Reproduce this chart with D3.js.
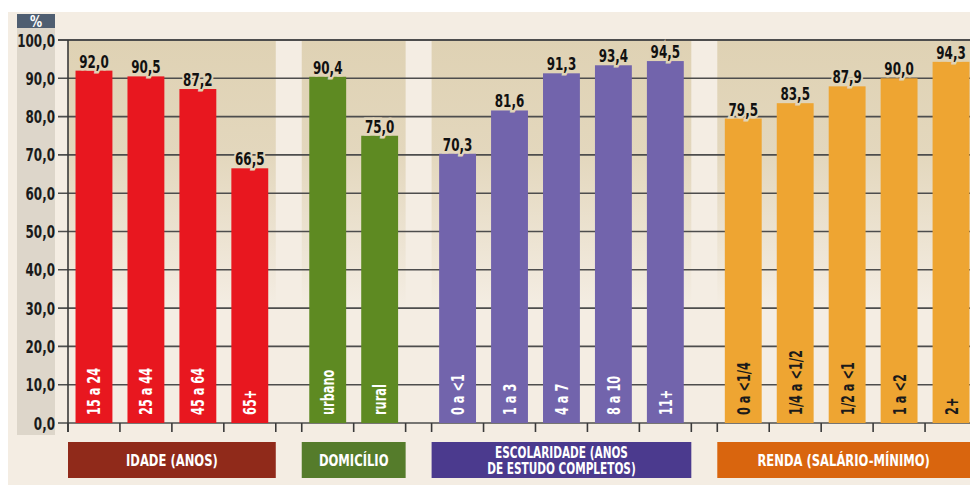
<!DOCTYPE html>
<html>
<head>
<meta charset="utf-8">
<script src="https://cdn.jsdelivr.net/npm/d3@7"></script>
<style>
  html, body { margin: 0; padding: 0; background: #ffffff; }
  svg { display: block; }
  text { font-family: "DejaVu Sans Condensed", "DejaVu Sans", sans-serif; font-stretch: condensed; }
</style>
</head>
<body>
<svg id="chart" width="970" height="485"></svg>
<script>
// Group titles (as drawn in the boxes below the axis)
const groupTitles = [
  ["IDADE (ANOS)"],
  ["DOMICÍLIO"],
  ["ESCOLARIDADE (ANOS", "DE ESTUDO COMPLETOS)"],
  ["RENDA (SALÁRIO-MÍNIMO)"]
];

// Category labels per group
const idadeCats = ["15 a 24", "25 a 44", "45 a 64", "65+"];
const domicilioCats = ["urbano", "rural"];
const escolaridadeCats = ["0 a <1", "1 a 3", "4 a 7", "8 a 10", "11+"];
const rendaCats = ["0 a <1/4", "1/4 a <1/2", "1/2 a <1", "1 a <2", "2+"];

// Values (%) per group
const idadeValues = [92.0, 90.5, 87.2, 66.5];
const domicilioValues = [90.4, 75.0];
const escolaridadeValues = [70.3, 81.6, 91.3, 93.4, 94.5];
const rendaValues = [79.5, 83.5, 87.9, 90.0, 94.3];

// Y-axis ticks
const yTicks = [0, 10, 20, 30, 40, 50, 60, 70, 80, 90, 100];

const groupCats = [idadeCats, domicilioCats, escolaridadeCats, rendaCats];
const groupValues = [idadeValues, domicilioValues, escolaridadeValues, rendaValues];

// Styling
const barColors = ["#e8171f", "#5e8a22", "#7264ac", "#eea532"];
const boxColors = ["#902a1a", "#557c2b", "#4b3a8e", "#d9650e"];
const innerLabelColors = ["#ffffff", "#ffffff", "#ffffff", "#1a1a1a"];
const bgCream = "#f4ede3";
const panelTop = "#dfd2b4";
const panelMid = "#e3d7bd";
const gapSlots = 0.5;
const squeeze = 0.76; // horizontal squeeze for a narrow, poster-like type

const svg = d3.select("#chart");
const W = 970, H = 485;

// Text helper: positioned, optionally rotated, horizontally squeezed
function label(parent, tx, ty, str, opts = {}) {
  const rot = opts.rotate || 0;
  const t = parent.append("text")
    .attr("transform", `translate(${tx},${ty}) rotate(${rot}) scale(${opts.sx || squeeze},1)`)
    .attr("text-anchor", opts.anchor || "middle")
    .attr("fill", opts.fill || "#111111")
    .attr("font-weight", opts.weight || "bold")
    .attr("font-size", opts.size || 17)
    .text(str);
  if (opts.halo) {
    t.attr("stroke", opts.halo).attr("stroke-width", 5).attr("paint-order", "stroke");
  }
  return t;
}

// Layout in slot units: each category occupies one slot, groups separated by half a slot
let cursor = 0;
const groups = groupCats.map((cats, gi) => {
  const start = cursor;
  const items = cats.map((c, i) => ({ cat: c, value: groupValues[gi][i], slot: start + i, gi }));
  cursor += cats.length;
  const g = { gi, start, end: cursor, items, title: groupTitles[gi] };
  cursor += gapSlots;
  return g;
});
const totalSlots = cursor - gapSlots;

const x = d3.scaleLinear().domain([0, totalSlots]).range([68, 977]);
const y = d3.scaleLinear().domain([0, 100]).range([423, 40]);
const slotW = x(1) - x(0);
const barW = slotW * 0.71;
const fmt = v => d3.format(".1f")(v).replace(".", ",");

// Page background
svg.append("rect").attr("width", W).attr("height", H).attr("fill", "#ffffff");
svg.append("rect").attr("x", 8).attr("y", 12).attr("width", W - 8).attr("height", H - 12).attr("fill", bgCream);

// Gradient used for the group panels
const defs = svg.append("defs");
const grad = defs.append("linearGradient").attr("id", "panelGrad")
  .attr("gradientUnits", "userSpaceOnUse")
  .attr("x1", 0).attr("x2", 0).attr("y1", y(100)).attr("y2", y(0));
grad.append("stop").attr("offset", "0").attr("stop-color", panelTop);
grad.append("stop").attr("offset", "0.3").attr("stop-color", panelMid);
grad.append("stop").attr("offset", "0.7").attr("stop-color", bgCream);
grad.append("stop").attr("offset", "1").attr("stop-color", bgCream);
const panelColorAt = v => {
  const t = (100 - v) / 100;
  if (t <= 0.3) return d3.interpolateRgb(panelTop, panelMid)(t / 0.3);
  if (t <= 0.7) return d3.interpolateRgb(panelMid, bgCream)((t - 0.3) / 0.4);
  return bgCream;
};

// Left label band and "%" tag
svg.append("rect").attr("x", 17).attr("y", 28).attr("width", 38).attr("height", 407).attr("fill", "#ddd6ca");
svg.append("rect").attr("x", 17).attr("y", 14).attr("width", 38).attr("height", 14).attr("fill", "#4f5e71");
label(svg, 36, 27, "%", { fill: "#ffffff", size: 15, sx: 0.9 });

// Group panels
svg.append("g").selectAll("rect").data(groups).join("rect")
  .attr("x", d => x(d.start)).attr("width", d => x(d.end) - x(d.start))
  .attr("y", y(100)).attr("height", y(0) - y(100))
  .attr("fill", "url(#panelGrad)");

// Gridlines
svg.append("g").selectAll("line").data(yTicks).join("line")
  .attr("x1", 58).attr("x2", W)
  .attr("y1", d => y(d)).attr("y2", d => y(d))
  .attr("stroke", "#4d4d4d").attr("stroke-width", d => d === 100 ? 2 : 1.6);

// Y axis line
svg.append("line").attr("x1", 68).attr("x2", 68).attr("y1", y(100)).attr("y2", y(0) + 9)
  .attr("stroke", "#3a3a3a").attr("stroke-width", 1.6);

// Y tick labels
const yLab = svg.append("g");
yTicks.forEach(v => label(yLab, 55, y(v) + 6.5, fmt(v), { anchor: "end", fill: "#1a1a1a", size: 17.5 }));

// X tick marks at slot boundaries
const tickSlots = groups.flatMap(g => d3.range(g.start, g.end + 1));
svg.append("g").selectAll("line").data(tickSlots).join("line")
  .attr("x1", d => x(d)).attr("x2", d => x(d))
  .attr("y1", y(0)).attr("y2", y(0) + 9)
  .attr("stroke", "#3a3a3a").attr("stroke-width", 1.6);

const items = groups.flatMap(g => g.items);

// Bars
svg.append("g").selectAll("rect").data(items).join("rect")
  .attr("x", d => x(d.slot + 0.5) - barW / 2).attr("width", barW)
  .attr("y", d => y(d.value)).attr("height", d => y(0) - y(d.value))
  .attr("fill", d => barColors[d.gi]);

// Value labels above the bars
const vLab = svg.append("g");
items.forEach(d => label(vLab, x(d.slot + 0.5), y(d.value) - 3, fmt(d.value),
  { size: 17.5, halo: panelColorAt(d.value + 3) }));

// Category labels inside the bars, rotated
const cLab = svg.append("g");
items.forEach(d => label(cLab, x(d.slot + 0.5) + 6.5, y(0) - 8, d.cat,
  { rotate: -90, anchor: "start", fill: innerLabelColors[d.gi], size: 17.5, sx: 0.72 }));

// Group title boxes
const boxes = svg.append("g");
groups.forEach((d, i) => {
  const x0 = x(d.start), x1 = Math.min(x(d.end), W);
  boxes.append("rect").attr("x", x0).attr("width", x1 - x0)
    .attr("y", 442).attr("height", 36).attr("fill", boxColors[i]);
  const n = d.title.length;
  const size = n > 1 ? 15 : 16.5;
  d.title.forEach((t, k) => {
    const by = n > 1 ? 458 + k * 16 : 466;
    label(boxes, (x0 + x1) / 2, by, t, { fill: "#ffffff", size, sx: 0.78 });
  });
});
</script>
</body>
</html>
